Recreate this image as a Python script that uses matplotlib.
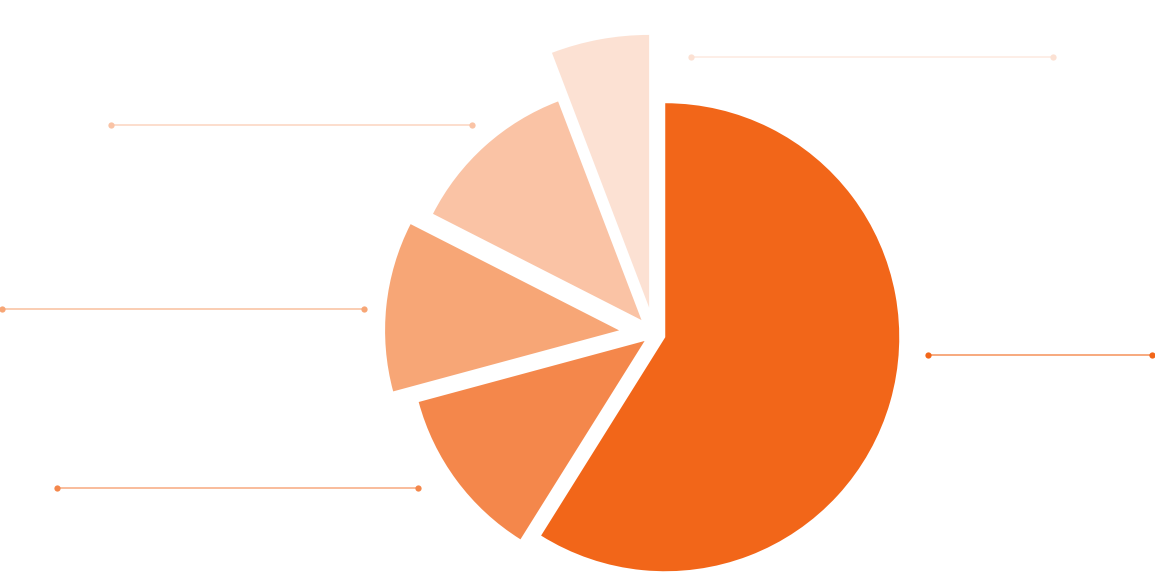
import matplotlib.pyplot as plt

# slice shares, clockwise from 12 o'clock
shares = [58.9, 11.9, 11.7, 11.7, 5.8]
colors = ["#F26619", "#F4874B", "#F7A676", "#FAC3A5", "#FCE1D3"]
explode = [0.05, 0.05, 0.15, 0.08, 0.115]

W, H = 1155, 572
R = 234.0          # pie radius in pixels
CX, CY = 654, 334  # pie centre in pixels (y measured from top)

# leader lines (no text): pixel positions (x0, x1, y) per slice
leaders = [
    (928, 1152, 355),
    (57, 418, 488),
    (2, 364, 309),
    (111, 472, 125),
    (691, 1053, 57),
]


def to_data(x, y):
    return (x - CX) / R, (CY - y) / R


fig = plt.figure(figsize=(W / 100, H / 100), dpi=100)
ax = fig.add_axes([0, 0, 1, 1])
wedges, _ = ax.pie(shares, colors=colors, explode=explode, startangle=90,
                   counterclock=False, radius=1.0, wedgeprops={"linewidth": 0})
# the smallest slice is drawn larger
wedges[4].set_radius(1.165)

for (x0, x1, y), c in zip(leaders, colors):
    (a, b), (d, _) = to_data(x0, y), to_data(x1, y)
    ax.plot([a, d], [b, b], color=c, alpha=0.65, lw=1.2, solid_capstyle="butt")
    ax.plot([a, d], [b, b], "o", color=c, ms=4.5, mew=0)

ax.set_xlim(-CX / R, (W - CX) / R)
ax.set_ylim((CY - H) / R, CY / R)
ax.set_aspect("equal")
ax.axis("off")
fig.savefig("out.png", dpi=100)
